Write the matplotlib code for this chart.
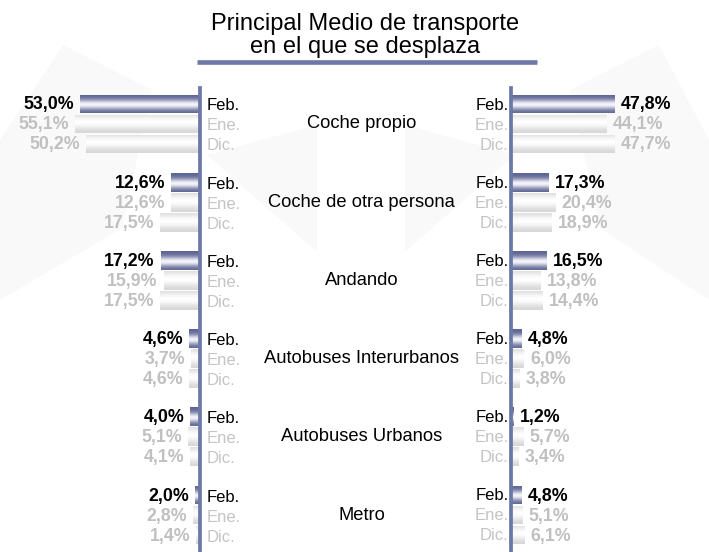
import numpy as np
import matplotlib
matplotlib.use("Agg")
import matplotlib.pyplot as plt
from matplotlib.patches import Polygon
from matplotlib.lines import Line2D
from matplotlib.colors import to_rgb
import matplotlib.transforms as mtransforms

plt.rcParams['font.family'] = ['Liberation Sans', 'DejaVu Sans']

# ---------------- data ----------------
title_lines = ["Principal Medio de transporte", "en el que se desplaza"]
categories = ["Coche propio", "Coche de otra persona", "Andando",
              "Autobuses Interurbanos", "Autobuses Urbanos", "Metro"]
periods = ["Feb.", "Ene.", "Dic."]
# left panel (Feb, Ene, Dic) per category
left_feb = [53.0, 12.6, 17.2, 4.6, 4.0, 2.0]
left_ene = [55.1, 12.6, 15.9, 3.7, 5.1, 2.8]
left_dic = [50.2, 17.5, 17.5, 4.6, 4.1, 1.4]
# right panel
right_feb = [47.8, 17.3, 16.5, 4.8, 1.2, 4.8]
right_ene = [44.1, 20.4, 13.8, 6.0, 5.7, 5.1]
right_dic = [47.7, 18.9, 14.4, 3.8, 3.4, 6.1]

# ---------------- style ----------------
W, H = 709, 552
AXIS_COLOR = '#6c78a8'
FEB_DARK, FEB_LIGHT = '#5c6392', '#f4f4fa'
GRAY_DARK, GRAY_LIGHT = '#d2d2d2', '#ffffff'
LABEL_GRAY = '#c4c4c4'
VALUE_GRAY = '#c0c0c0'
BG_SHAPE = '#f9f9f9'
GROUP_STEP = 3.91
BAR_H = 0.94


def fx(px):
    return px / W


def fy(py):
    return 1 - py / H


fig = plt.figure(figsize=(W / 100, H / 100), dpi=100)
fig.patch.set_facecolor('white')

# faint background decorations (figure pixel coordinates)
bg_shapes = [
    [(0, 140), (63, 45), (152, 90), (122, 228), (0, 300)],
    [(207, 155), (317, 125), (317, 252)],
    [(515, 155), (405, 125), (405, 252)],
    [(709, 140), (659, 45), (570, 90), (600, 228), (709, 300)],
]
for pts in bg_shapes:
    poly = Polygon([(fx(x), fy(y)) for x, y in pts], closed=True,
                   transform=fig.transFigure, facecolor=BG_SHAPE,
                   edgecolor='none', zorder=-5)
    fig.patches.append(poly)

# title
fig.text(fx(365), fy(30), title_lines[0], ha='center', va='baseline',
         fontsize=17, color='black')
fig.text(fx(365), fy(53), title_lines[1], ha='center', va='baseline',
         fontsize=17, color='black')
fig.lines.append(Line2D([fx(197), fx(537)], [fy(61.5), fy(61.5)],
                        transform=fig.transFigure, color=AXIS_COLOR,
                        linewidth=3.3, solid_capstyle='butt'))

ax_top_px = 88
ax_h = (H - ax_top_px) / H
axL = fig.add_axes([0, 0, fx(199.5), ax_h])
axR = fig.add_axes([fx(510.5), 0, fx(W - 510.5), ax_h])

y_top = -0.8
y_bot = y_top + (H - ax_top_px) / 20.0


def gradient(dark, light, peak, width=0.24, n=64):
    t = np.linspace(0, 1, n)
    b = np.exp(-((t - peak) / width) ** 2)
    d = np.array(to_rgb(dark))
    l = np.array(to_rgb(light))
    return (d[None, :] + (l - d)[None, :] * b[:, None])[:, None, :]


grad_feb = gradient(FEB_DARK, FEB_LIGHT, 0.55, width=0.26)
grad_gray = gradient(GRAY_DARK, GRAY_LIGHT, 0.42, width=0.38)

n = len(categories)
base = np.arange(n) * GROUP_STEP

panels = [
    (axL, [left_feb, left_ene, left_dic], 'left'),
    (axR, [right_feb, right_ene, right_dic], 'right'),
]

for ax, series, side in panels:
    ax.patch.set_alpha(0)
    for j, vals in enumerate(series):
        ys = base + j
        bars = ax.barh(ys, vals, height=BAR_H, color='none',
                       edgecolor='none', zorder=2)
        g = grad_feb if j == 0 else grad_gray
        for p in bars.patches:
            x0, w = p.get_x(), p.get_width()
            y0, h = p.get_y(), p.get_height()
            im = ax.imshow(g, extent=[x0, x0 + w, y0 + h, y0], aspect='auto',
                           interpolation='bilinear', zorder=2)
            im.set_clip_path(p)
        txt_color = 'black' if j == 0 else VALUE_GRAY
        lab_color = 'black' if j == 0 else LABEL_GRAY
        for yv, v in zip(ys, vals):
            s = f"{v:.1f}%".replace('.', ',')
            if side == 'left':
                ax.annotate(s, (v, yv), xytext=(-6, -1), textcoords='offset pixels',
                            ha='right', va='center', fontsize=12.8,
                            fontweight='bold', color=txt_color,
                            annotation_clip=False, zorder=3)
                ax.annotate(periods[j], (0, yv), xytext=(7, -2),
                            textcoords='offset pixels', ha='left', va='center',
                            fontsize=12, color=lab_color,
                            annotation_clip=False, zorder=3)
            else:
                ax.annotate(s, (v, yv), xytext=(7, -1), textcoords='offset pixels',
                            ha='left', va='center', fontsize=12.8,
                            fontweight='bold', color=txt_color,
                            annotation_clip=False, zorder=3)
                ax.annotate(periods[j], (0, yv), xytext=(-2, -1),
                            textcoords='offset pixels', ha='right', va='center',
                            fontsize=12, color=lab_color,
                            annotation_clip=False, zorder=1)
    ax.set_ylim(y_bot, y_top)
    ax.set_xticks([])
    ax.set_yticks([])
    for sp in ax.spines.values():
        sp.set_visible(False)

axL.set_xlim(199.5 / 2.26, 0)
axR.set_xlim(0, (W - 510.5) / 2.16)
axL.spines['right'].set_visible(True)
axL.spines['right'].set_color(AXIS_COLOR)
axL.spines['right'].set_linewidth(2.7)
axL.spines['right'].set_zorder(4)
axR.spines['left'].set_visible(True)
axR.spines['left'].set_color(AXIS_COLOR)
axR.spines['left'].set_linewidth(2.7)
axR.spines['left'].set_zorder(4)

# category labels centred between the two axes
trans = mtransforms.blended_transform_factory(fig.transFigure, axL.transData)
for i, c in enumerate(categories):
    fig.text(fx(361.5), base[i] + 1, c, transform=trans, ha='center',
             va='center', fontsize=13.2, color='black')

fig.savefig('out.png', dpi=100)
